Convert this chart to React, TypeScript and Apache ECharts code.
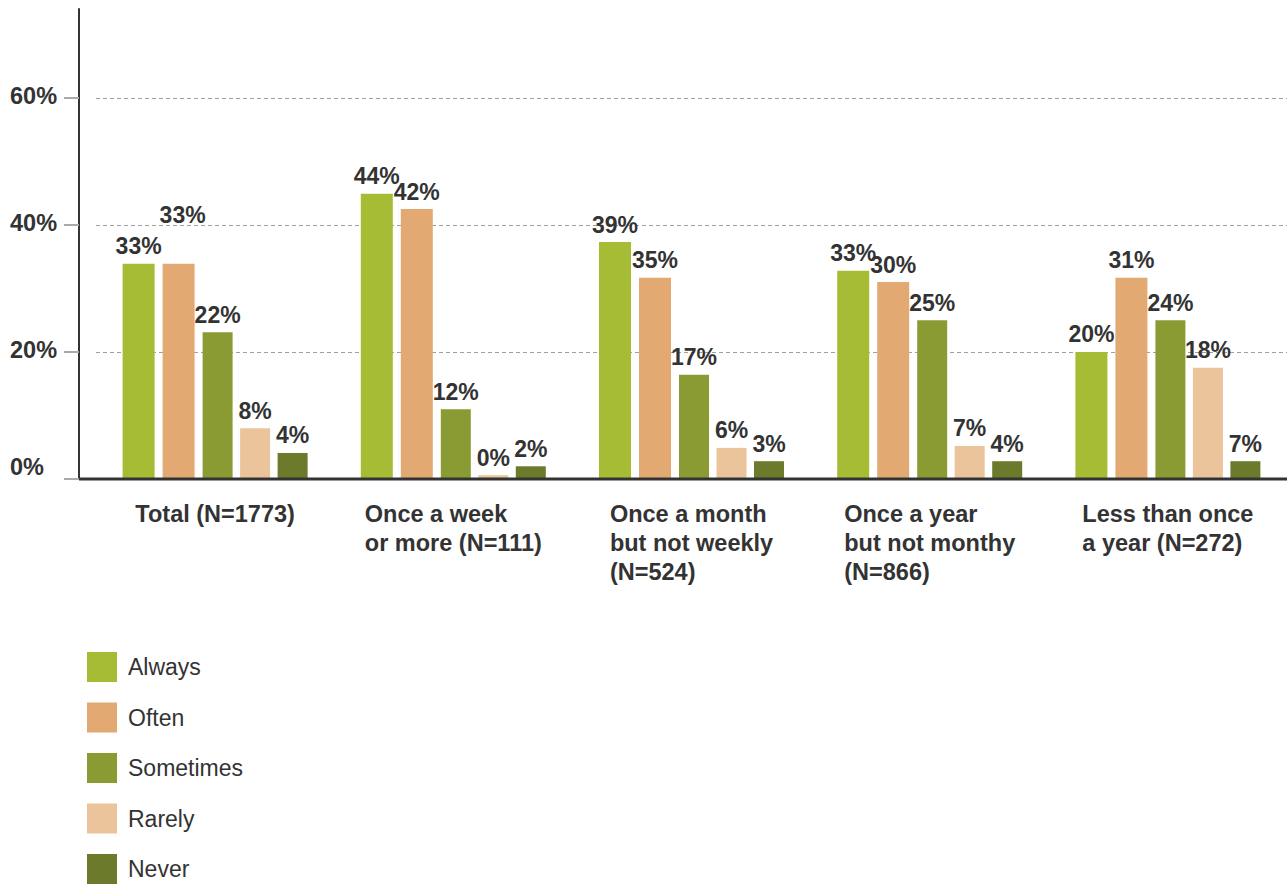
import React, { useEffect, useRef } from "react";
import * as echarts from "echarts";

const categories = [
  "Total (N=1773)",
  "Once a week\nor more (N=111)",
  "Once a month\nbut not weekly\n(N=524)",
  "Once a year\nbut not monthy\n(N=866)",
  "Less than once\na year (N=272)",
];
const seriesNames = ["Always", "Often", "Sometimes", "Rarely", "Never"];

// bar heights as drawn in the picture (%)
const always = [33.9, 44.9, 37.3, 32.8, 20.0];
const often = [33.9, 42.5, 31.7, 31.0, 31.7];
const sometimes = [23.1, 11.0, 16.4, 25.0, 25.0];
const rarely = [8.0, 0.6, 4.9, 5.2, 17.5];
const never = [4.1, 2.0, 2.8, 2.8, 2.8];

// value labels printed above the bars
const alwaysLabels = ["33%", "44%", "39%", "33%", "20%"];
const oftenLabels = ["33%", "42%", "35%", "30%", "31%"];
const sometimesLabels = ["22%", "12%", "17%", "25%", "24%"];
const rarelyLabels = ["8%", "0%", "6%", "7%", "18%"];
const neverLabels = ["4%", "2%", "3%", "4%", "7%"];

const colors = ["#a7bc35", "#e2aa72", "#8a9b34", "#ebc49b", "#6b7a2b"];

const FONT = "'Liberation Sans', Arial, Helvetica, sans-serif";
const TEXT = "#333333";

export default function App() {
  const ref = useRef<HTMLDivElement>(null);
  useEffect(() => {
    if (!ref.current) return;
    const chart = echarts.init(ref.current, undefined, { renderer: "svg" });
    const values = [always, often, sometimes, rarely, never];
    const labels = [alwaysLabels, oftenLabels, sometimesLabels, rarelyLabels, neverLabels];
    const widths = [32, 32, 30, 30, 30];
    const gridLeft = 96;
    const gridBottom = 407;
    chart.setOption({
      animation: false,
      textStyle: { fontFamily: FONT },
      grid: { left: gridLeft, right: -8, top: 9, bottom: gridBottom, containLabel: false },
      legend: {
        orient: "vertical",
        left: 87,
        top: 652,
        height: 300,
        padding: 0,
        itemWidth: 30,
        itemHeight: 30,
        itemGap: 20.5,
        icon: "rect",
        data: seriesNames,
        textStyle: { fontFamily: FONT, fontSize: 23, color: TEXT, padding: [0, 0, 0, 6] },
      },
      xAxis: {
        type: "category",
        data: categories,
        axisLine: { show: false },
        axisTick: { show: false },
        axisLabel: {
          interval: 0,
          margin: 20,
          formatter: (v: string) =>
            v
              .split("\n")
              .map((l) => `{a|${l}}`)
              .join("\n"),
          rich: {
            a: {
              align: "left",
              fontFamily: FONT,
              fontSize: 23.5,
              fontWeight: "bold",
              lineHeight: 29,
              color: TEXT,
            },
          },
        },
      },
      yAxis: {
        type: "value",
        min: 0,
        max: 74,
        interval: 20,
        offset: gridLeft - 79,
        axisLine: { show: true, lineStyle: { color: "#333333", width: 2 } },
        axisTick: { show: true, length: 15, lineStyle: { color: "#aaaaaa", width: 2 } },
        splitLine: {
          show: true,
          showMaxLine: false,
          showMinLine: false,
          lineStyle: { color: "#a0a0a0", type: [4, 3], width: 1 },
        },
        axisLabel: {
          showMaxLabel: false,
          align: "left",
          margin: 69,
          verticalAlign: "middle",
          fontFamily: FONT,
          fontSize: 23.5,
          fontWeight: "bold",
          color: TEXT,
          formatter: (v: number) => (v === 0 ? `{z|${v}%}` : `{n|${v}%}`),
          rich: {
            z: {
              fontFamily: FONT,
              fontSize: 23.5,
              fontWeight: "bold",
              color: TEXT,
              padding: [0, 0, 24, 0],
            },
            n: {
              fontFamily: FONT,
              fontSize: 23.5,
              fontWeight: "bold",
              color: TEXT,
              padding: [0, 0, 4, 0],
            },
          },
        },
      },
      graphic: [
        {
          type: "line",
          shape: { x1: 79, y1: 886 - gridBottom, x2: 1287, y2: 886 - gridBottom },
          style: { stroke: "#333333", lineWidth: 3 },
          z: 100,
        },
      ],
      series: seriesNames.map((name, i) => ({
        name,
        type: "bar",
        data: values[i].map((v, j) => {
          const item: any = { value: v };
          // the "Often" label of the Total group sits higher in the original
          if (i === 1 && j === 0) item.label = { offset: [4, -31] };
          return item;
        }),
        barWidth: widths[i],
        barGap: "25%",
        itemStyle: { color: colors[i] },
        label: {
          show: true,
          position: "top",
          distance: 6,
          formatter: (p: any) => labels[i][p.dataIndex],
          fontFamily: FONT,
          fontSize: 23,
          fontWeight: "bold",
          color: TEXT,
        },
      })),
    });
    return () => chart.dispose();
  }, []);
  return (
    <div
      ref={ref}
      style={{ position: "absolute", left: 0, top: 0, width: 1287, height: 886 }}
    />
  );
}
